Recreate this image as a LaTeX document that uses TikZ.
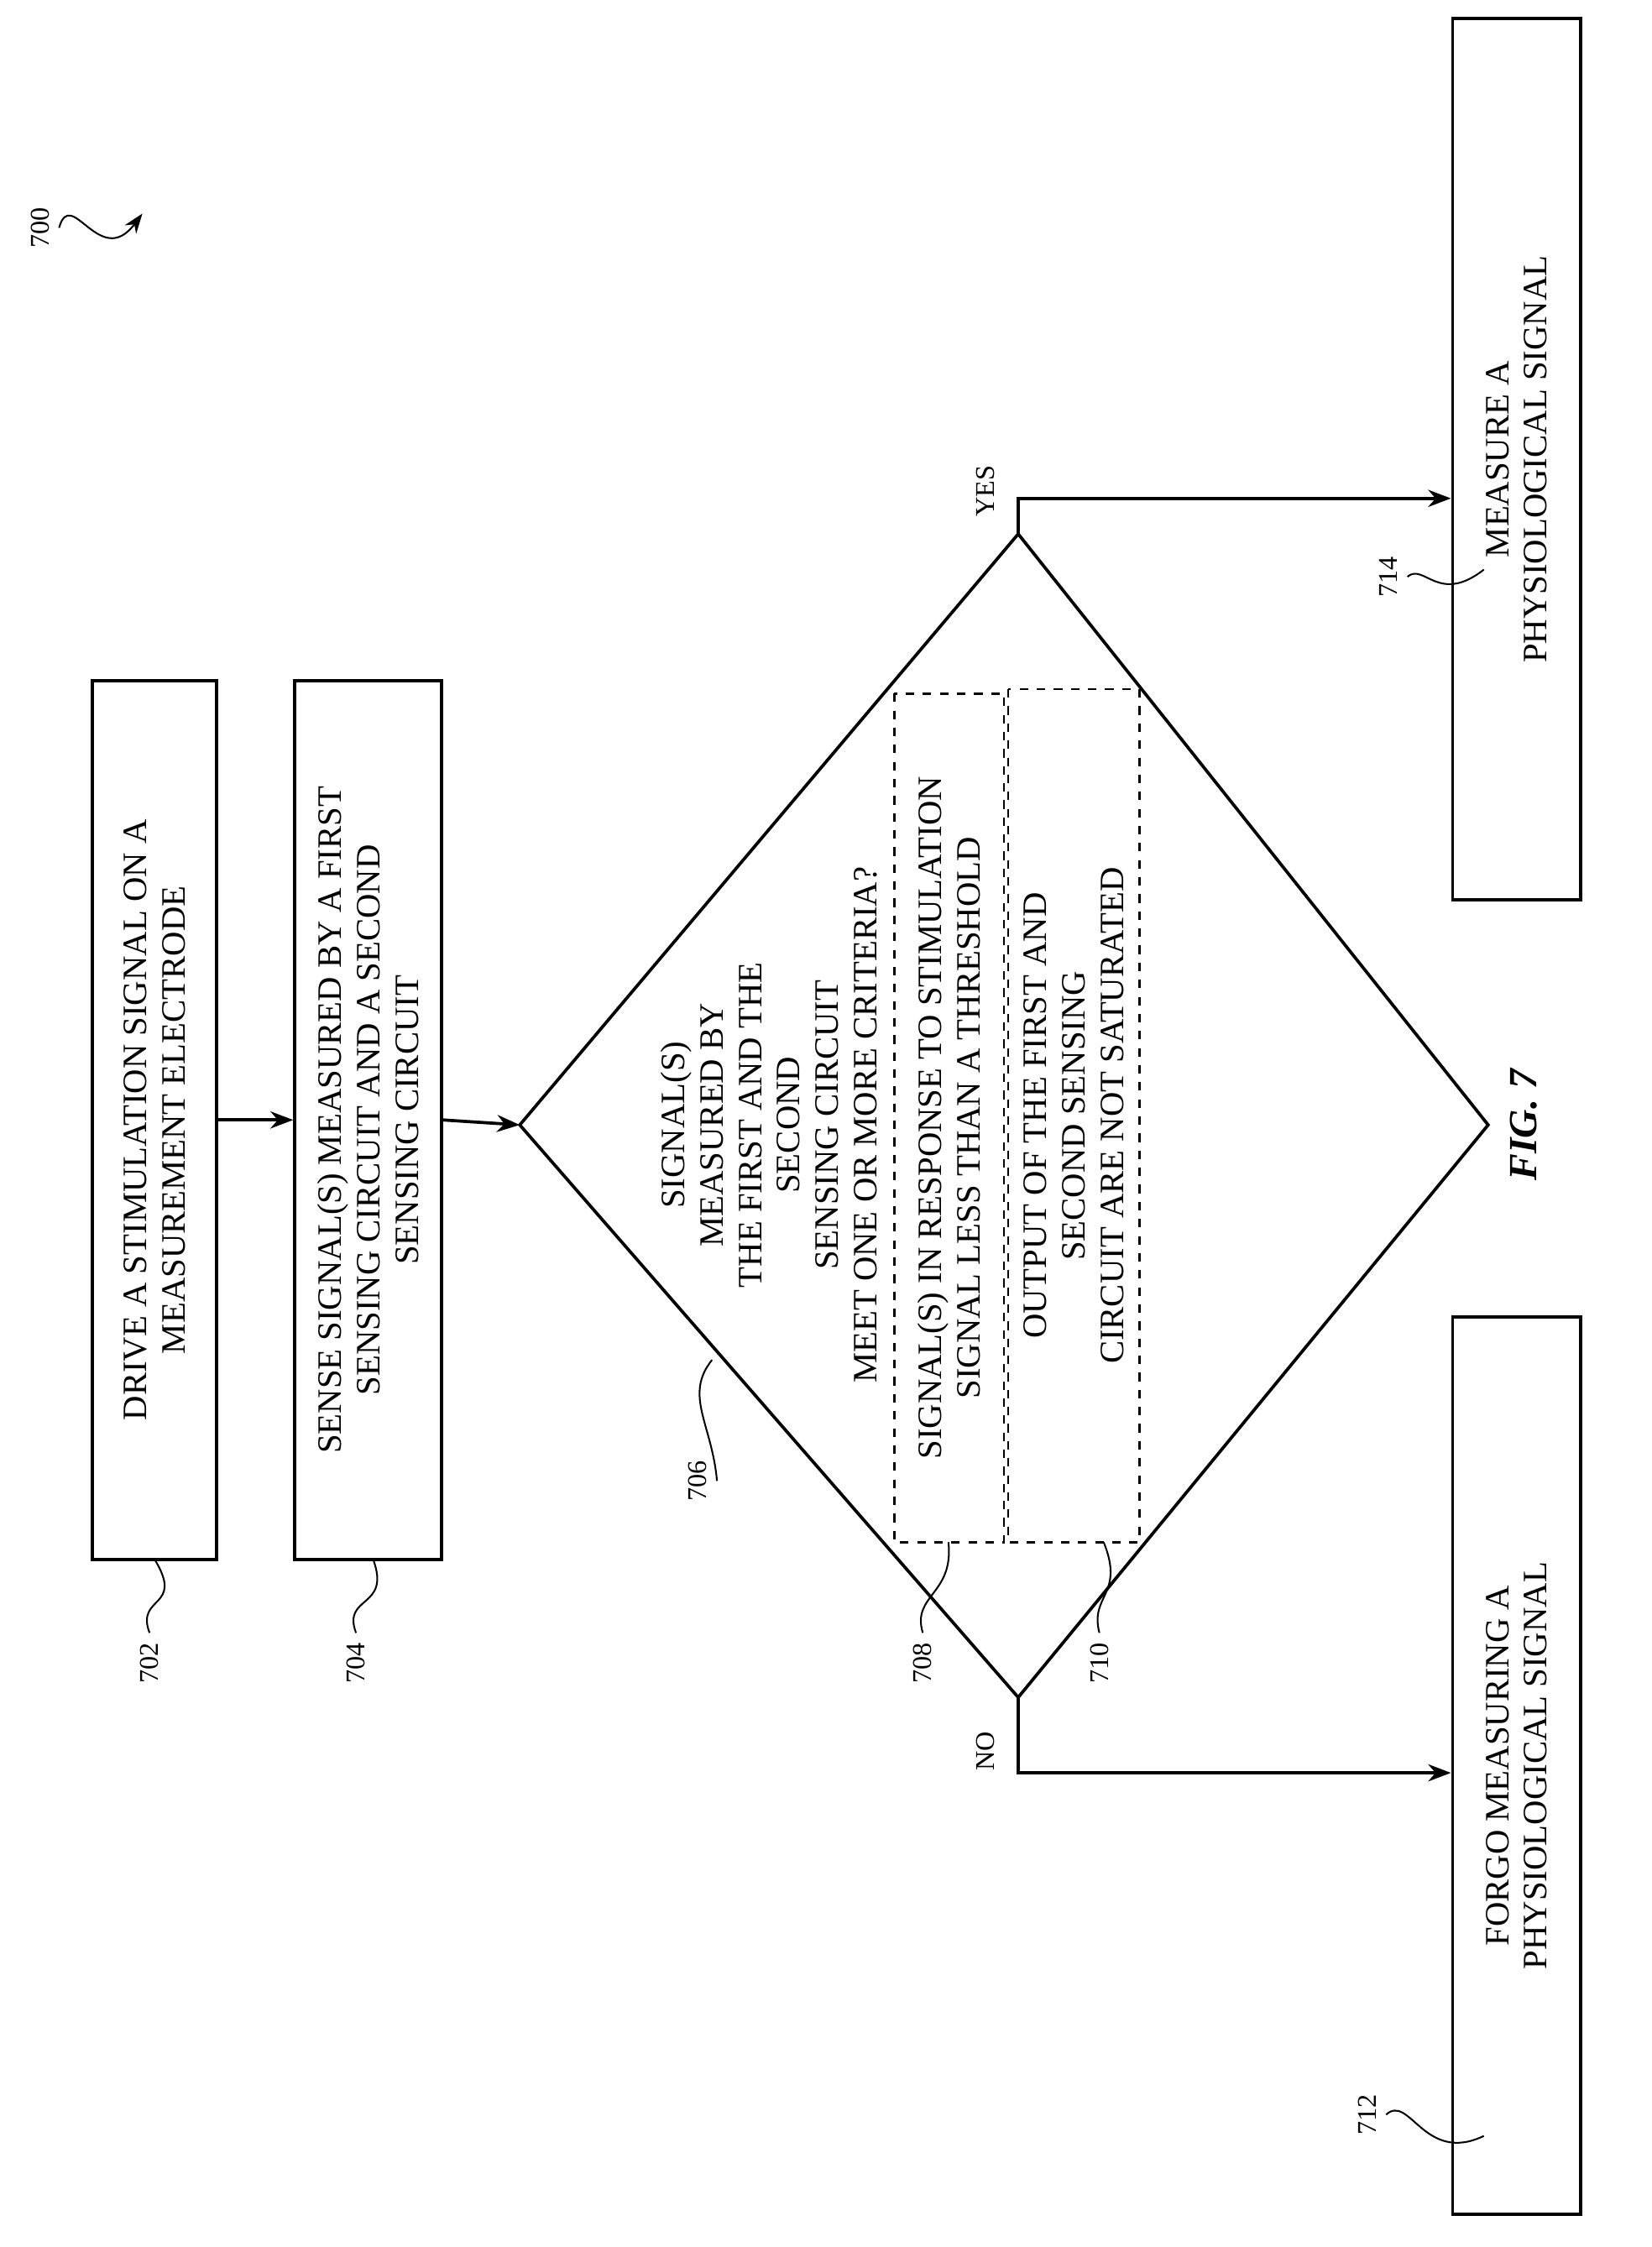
\documentclass[tikz,border=0pt]{standalone}
\usepackage{fontspec}
\setmainfont{Liberation Serif}
\usetikzlibrary{arrows.meta,calc}
\begin{document}
\begin{tikzpicture}[x=0.5pt,y=-0.5pt,
  box/.style={draw,line width=1.1pt,rotate=90,align=center,font=\fontsize{12}{13.5}\selectfont,inner sep=0pt},
  dbox/.style={draw,dashed,line width=0.8pt,rotate=90,align=center,font=\fontsize{12}{13.5}\selectfont,inner sep=0pt},
  lab/.style={rotate=90,font=\fontsize{9.5}{11}\selectfont},
  ln/.style={line width=1.1pt},
  arr/.style={line width=1.1pt,-{Stealth[length=8pt,width=6pt]}},
  lead/.style={line width=0.6pt}]
\useasboundingbox (0,0) rectangle (1160,1578);
\node[box,minimum width=308.5pt,minimum height=43.5pt] (b702) at (108.5,786.5) {DRIVE A STIMULATION SIGNAL ON A\\MEASUREMENT ELECTRODE};
\node[box,minimum width=308.5pt,minimum height=51.5pt] (b704) at (258.5,786.5) {SENSE SIGNAL(S) MEASURED BY A FIRST\\SENSING CIRCUIT AND A SECOND\\SENSING CIRCUIT};
\coordinate (dl) at (365,790);
\coordinate (dt) at (715,375);
\coordinate (db) at (715,1192);
\coordinate (dr) at (1045,790);
\draw[ln] (dl) -- (dt) -- (dr) -- (db) -- cycle;
\node[rotate=90,align=center,font=\fontsize{12}{13.5}\selectfont] (q) at (540,790) {SIGNAL(S)\\MEASURED BY\\THE FIRST AND THE\\SECOND\\SENSING CIRCUIT\\MEET ONE OR MORE CRITERIA?};
\node[dbox,minimum width=298pt,minimum height=38.5pt] (b708) at (666.5,785) {SIGNAL(S) IN RESPONSE TO STIMULATION\\SIGNAL LESS THAN A THRESHOLD};
\node[dbox,minimum width=299.5pt,minimum height=46pt] (b710) at (754,783.5) {OUTPUT OF THE FIRST AND\\SECOND SENSING\\CIRCUIT ARE NOT SATURATED};
\node[box,minimum width=309.5pt,minimum height=45pt] (b714) at (1065,322.5) {MEASURE A\\PHYSIOLOGICAL SIGNAL};
\node[box,minimum width=315pt,minimum height=45pt] (b712) at (1065,1240) {FORGO MEASURING A\\PHYSIOLOGICAL SIGNAL};
\draw[arr] (b702) -- (b704);
\draw[arr] (b704.south) -- (dl);
\coordinate (yc) at (715,350);
\coordinate (nc) at (715,1245);
\draw[arr] (dt) -- (yc) -- (yc -| b714.north);
\draw[arr] (db) -- (nc) -- (nc -| b712.north);
\node[lab] (yes) at (692,345) {YES};
\node[lab] (no) at (692,1230) {NO};
\node[rotate=90,font=\fontsize{14}{16}\selectfont\bfseries\itshape] (fig) at (1070,790) {FIG. 7};
\node[lab] (l700) at (28,160) {700};
\coordinate (a700) at (100,150);
\draw[lead,-{Stealth[length=7pt,width=5pt]}] (l700.south) .. controls (50,130) and (70,190) .. (a700);
\node[lab] (l702) at (105,1168) {702};
\draw[lead] (l702.east) .. controls (95,1120) and (130,1130) .. (b702.east |- 0,1095);
\node[lab] (l704) at (250,1168) {704};
\draw[lead] (l704.east) .. controls (240,1120) and (275,1130) .. (262,1095);
\node[lab] (l706) at (490,1040) {706};
\draw[lead] (l706.south) .. controls (500,1000) and (480,980) .. (500,955);
\node[lab] (l708) at (648,1168) {708};
\draw[lead] (l708.east) .. controls (640,1120) and (670,1120) .. (666,1083);
\node[lab] (l710) at (772,1168) {710};
\draw[lead] (l710.east) .. controls (765,1120) and (790,1120) .. (775,1083);
\node[lab] (l712) at (960,1485) {712};
\draw[lead] (l712.south) .. controls (990,1470) and (1000,1520) .. (1042,1500);
\node[lab] (l714) at (975,405) {714};
\draw[lead] (l714.south) .. controls (1000,395) and (1010,425) .. (1042,400);
\end{tikzpicture}
\end{document}
